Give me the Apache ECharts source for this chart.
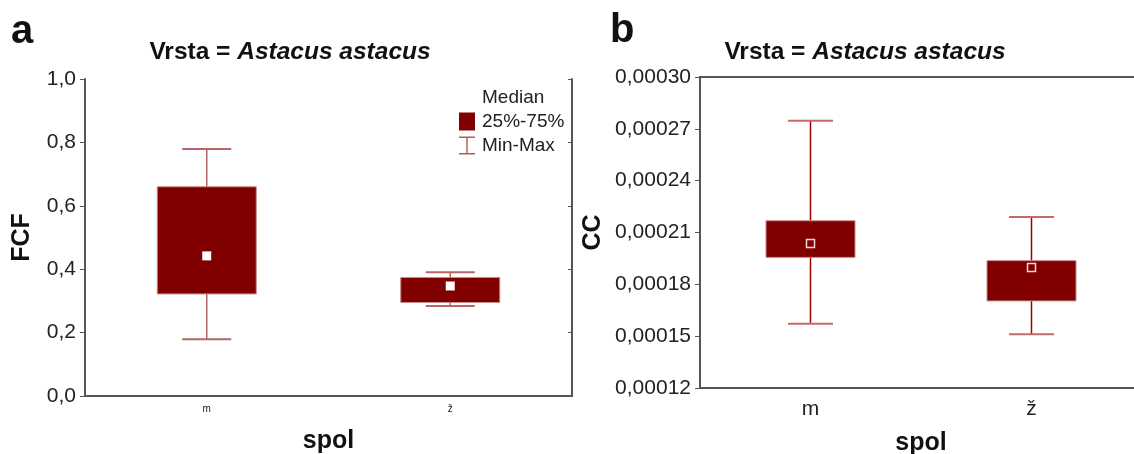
<!DOCTYPE html>
<html>
<head>
<meta charset="utf-8">
<script src="https://cdn.jsdelivr.net/npm/echarts@6/dist/echarts.min.js"></script>
<style>
html,body{margin:0;padding:0;background:#fff;}
#c{width:1134px;height:454px;}
</style>
</head>
<body>
<div id="c"></div>
<script>
// ---- data ----
var categories = ['m', 'ž'];
// [min, q1, median, q3, max]
var fcfStats = [
  [0.179, 0.322, 0.442, 0.660, 0.779],
  [0.284, 0.295, 0.347, 0.374, 0.390]
];
var ccStats = [
  [0.0001572, 0.0001956, 0.0002037, 0.0002168, 0.0002747],
  [0.0001511, 0.0001704, 0.0001898, 0.0001937, 0.0002190]
];
var fcfTicks = {min: 0, max: 1, interval: 0.2};
var ccTicks = {min: 0.00012, max: 0.00030, interval: 0.00003};

var FONT = 'Liberation Sans, Arial, sans-serif';
var BOX = '#800000';
var FRAME = '#555';

function whiskerRender(capW, stemColor, capColor) {
  return function (params, api) {
    var x = api.value(0);
    var top = api.coord([x, api.value(5)]);
    var bot = api.coord([x, api.value(1)]);
    var cx = top[0];
    return {
      type: 'group',
      children: [
        {type: 'line', shape: {x1: cx, y1: top[1], x2: cx, y2: bot[1]}, style: {stroke: stemColor, lineWidth: 1.5}},
        {type: 'line', shape: {x1: cx - capW / 2, y1: top[1], x2: cx + capW / 2, y2: top[1]}, style: {stroke: capColor, lineWidth: 2}},
        {type: 'line', shape: {x1: cx - capW / 2, y1: bot[1], x2: cx + capW / 2, y2: bot[1]}, style: {stroke: capColor, lineWidth: 2}}
      ]
    };
  };
}
function boxRender(boxW) {
  return function (params, api) {
    var x = api.value(0);
    var q3 = api.coord([x, api.value(4)]);
    var q1 = api.coord([x, api.value(2)]);
    return {
      type: 'rect',
      shape: {x: q3[0] - boxW / 2, y: q3[1], width: boxW, height: q1[1] - q3[1]},
      style: {fill: BOX, stroke: '#c98a8a', lineWidth: 1}
    };
  };
}
function toData(stats) {
  return stats.map(function (s, i) { return [i, s[0], s[1], s[2], s[3], s[4]]; });
}
function medData(stats) {
  return stats.map(function (s, i) { return [i, s[2]]; });
}

function makeAxes(gi, ticks, fmt, xLabelSize, xMargin, yName, yGap, xGap) {
  return {
    x: [
      {
        gridIndex: gi, type: 'category', data: categories, position: 'bottom',
        axisLine: {lineStyle: {color: FRAME, width: 2}},
        axisTick: {alignWithLabel: true, inside: true, length: 4, lineStyle: {color: FRAME}},
        axisLabel: {fontSize: xLabelSize, color: '#222', fontFamily: FONT, margin: xMargin},
        name: 'spol', nameLocation: 'middle', nameGap: xGap,
        nameTextStyle: {fontSize: 25, fontWeight: 'bold', color: '#111', fontFamily: FONT}
      },
      {
        gridIndex: gi, type: 'category', data: categories, position: 'top',
        axisLine: {lineStyle: {color: FRAME, width: 2}},
        axisTick: {alignWithLabel: true, inside: true, length: 4, lineStyle: {color: FRAME}},
        axisLabel: {show: false}
      }
    ],
    y: [
      {
        gridIndex: gi, type: 'value', min: ticks.min, max: ticks.max, interval: ticks.interval, position: 'left',
        axisLine: {show: true, lineStyle: {color: FRAME, width: 2}},
        axisTick: {show: true, length: 5, lineStyle: {color: FRAME}},
        splitLine: {show: false},
        axisLabel: {fontSize: 21, color: '#222', fontFamily: FONT, margin: 9, formatter: fmt},
        name: yName, nameLocation: 'middle', nameGap: yGap,
        nameTextStyle: {fontSize: 25, fontWeight: 'bold', color: '#111', fontFamily: FONT}
      },
      {
        gridIndex: gi, type: 'value', min: ticks.min, max: ticks.max, interval: ticks.interval, position: 'right',
        axisLine: {show: true, lineStyle: {color: FRAME, width: 2}},
        axisTick: {show: true, inside: true, length: 4, lineStyle: {color: FRAME}},
        splitLine: {show: false},
        axisLabel: {show: false}
      }
    ]
  };
}

var a1 = makeAxes(0, fcfTicks, function (v) { return v.toFixed(1).replace('.', ','); }, 10, 8, 'FCF', 50, 33);
var a2 = makeAxes(1, ccTicks, function (v) { return v.toFixed(5).replace('.', ','); }, 21, 11, 'CC', 94, 43);

var titleRich = {
  n: {fontSize: 24.5, fontWeight: 'bold', color: '#111', fontFamily: FONT},
  i: {fontSize: 24.5, fontWeight: 'bold', fontStyle: 'italic', color: '#111', fontFamily: FONT}
};

var chart = echarts.init(document.getElementById('c'), null, {renderer: 'canvas'});
chart.setOption({
  animation: false,
  backgroundColor: '#fff',
  title: [
    {text: '{n|Vrsta = }{i|Astacus astacus}', left: 285, top: 35, textAlign: 'center', textStyle: {rich: titleRich}},
    {text: '{n|Vrsta = }{i|Astacus astacus}', left: 860, top: 35, textAlign: 'center', textStyle: {rich: titleRich}}
  ],
  graphic: [
    {type: 'text', left: 11, top: 12, style: {text: 'a', font: 'bold 40px ' + FONT, fill: '#111'}},
    {type: 'text', left: 610, top: 11, style: {text: 'b', font: 'bold 40px ' + FONT, fill: '#111'}}
  ],
  legend: {
    orient: 'vertical', left: 459, top: 88, padding: 0, itemWidth: 16, itemHeight: 18, itemGap: 5,
    selectedMode: false,
    textStyle: {fontSize: 19, color: '#222', fontFamily: FONT, padding: [0, 0, 0, 2]},
    data: [
      {name: 'Median', icon: 'rect', itemStyle: {color: '#fff', borderWidth: 0}},
      {name: '25%-75%', icon: 'rect', itemStyle: {color: BOX, borderWidth: 0}},
      {name: 'Min-Max', icon: 'path://M0,0h16v1.4h-16z M7.3,1.4h1.4v15.2h-1.4z M0,16.6h16v1.4h-16z', itemStyle: {color: '#b55a5a', borderWidth: 0}}
    ]
  },
  grid: [
    {left: 85, top: 79, width: 487, height: 317, outerBoundsMode: 'none'},
    {left: 700, top: 77, width: 442, height: 311, outerBoundsMode: 'none'}
  ],
  xAxis: a1.x.concat(a2.x),
  yAxis: a1.y.concat(a2.y),
  series: [
    {name: 'Min-Max', type: 'custom', xAxisIndex: 0, yAxisIndex: 0, renderItem: whiskerRender(49, '#b86565', '#b86565'), data: toData(fcfStats), z: 2},
    {name: '25%-75%', type: 'custom', xAxisIndex: 0, yAxisIndex: 0, renderItem: boxRender(99), data: toData(fcfStats), z: 3},
    {name: 'Median', type: 'scatter', xAxisIndex: 0, yAxisIndex: 0, symbol: 'rect', symbolSize: 9, itemStyle: {color: '#fff', opacity: 1}, data: medData(fcfStats), z: 4},
    {name: 'Min-Max', type: 'custom', xAxisIndex: 2, yAxisIndex: 2, renderItem: whiskerRender(45, '#a00000', '#c46a6a'), data: toData(ccStats), z: 2},
    {name: '25%-75%', type: 'custom', xAxisIndex: 2, yAxisIndex: 2, renderItem: boxRender(89), data: toData(ccStats), z: 3},
    {name: 'Median', type: 'scatter', xAxisIndex: 2, yAxisIndex: 2, symbol: 'rect', symbolSize: 8, itemStyle: {color: BOX, borderColor: '#f0d8d8', borderWidth: 1.5, opacity: 1}, data: medData(ccStats), z: 4}
  ]
});
</script>
</body>
</html>
